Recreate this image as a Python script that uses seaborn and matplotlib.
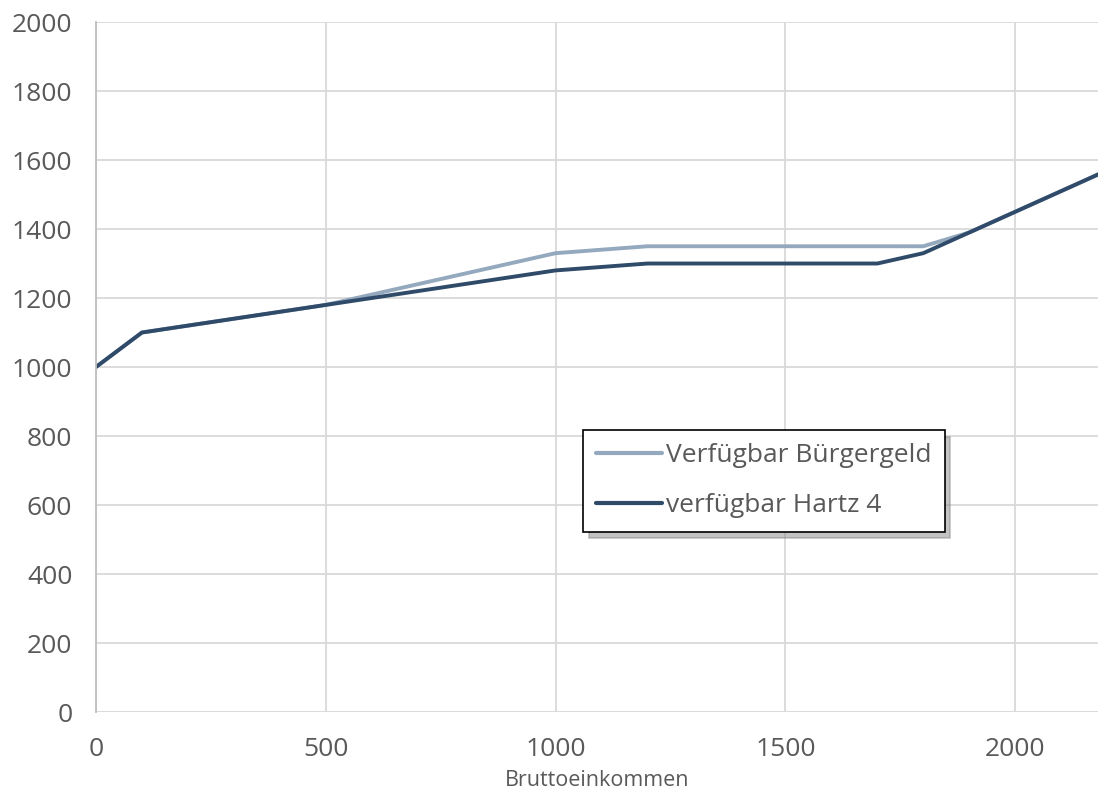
import pandas as pd
import numpy as np
import seaborn as sns
import matplotlib.pyplot as plt

brutto = [0, 100, 500, 1000, 1200, 1700, 1800, 1900, 2000, 2200]
buergergeld = [1000, 1100, 1180, 1330, 1350, 1350, 1350, 1390, 1450, 1570]
hartz4 = [1000, 1100, 1180, 1280, 1300, 1300, 1330, 1390, 1450, 1570]
labels = ['Verfügbar Bürgergeld', 'verfügbar Hartz 4']

df = pd.DataFrame({
    'Bruttoeinkommen': brutto * 2,
    'Wert': buergergeld + hartz4,
    'Serie': [labels[0]] * len(brutto) + [labels[1]] * len(brutto),
})

sns.set_style('white')
plt.rcParams['font.family'] = ['Open Sans', 'DejaVu Sans']

fig = plt.figure(figsize=(10.98, 7.92), dpi=100)
ax = fig.add_axes([0.0874, 0.101, 0.9126, 0.8712])

sns.lineplot(data=df, x='Bruttoeinkommen', y='Wert', hue='Serie',
             palette=['#95A9BE', '#2F4B69'], linewidth=2.8, ax=ax)

ax.set_xlim(0, 2180)
ax.set_ylim(0, 2000)
ax.set_xticks([0, 500, 1000, 1500, 2000])
ax.set_yticks(range(0, 2001, 200))
ax.grid(True, color='#D9D9D9', linewidth=1.3)
ax.set_axisbelow(True)
for s in ['top', 'right', 'bottom']:
    ax.spines[s].set_visible(False)
ax.spines['left'].set_color('#BFBFBF')
ax.spines['left'].set_linewidth(1.3)
ax.tick_params(axis='both', labelsize=19, colors='#595959', length=0)
ax.tick_params(axis='y', pad=17)
ax.tick_params(axis='x', pad=18)
ax.set_xlabel('Bruttoeinkommen', fontsize=15.5, color='#595959', labelpad=6)
ax.set_ylabel('')

leg = ax.legend(loc='upper left', bbox_to_anchor=(0.531, 0.457),
                bbox_transform=fig.transFigure, borderaxespad=0,
                fontsize=19, frameon=True, fancybox=False,
                shadow={'color': '#888888', 'alpha': 0.5, 'ox': 4, 'oy': -5},
                edgecolor='black', handlelength=2.5, handletextpad=0.15,
                borderpad=0.5, labelspacing=0.95)
leg.get_frame().set_linewidth(1.2)
for t in leg.get_texts():
    t.set_color('#595959')
for h in leg.get_lines():
    h.set_linewidth(3)

fig.savefig('out.png', dpi=100)
plt.close(fig)
